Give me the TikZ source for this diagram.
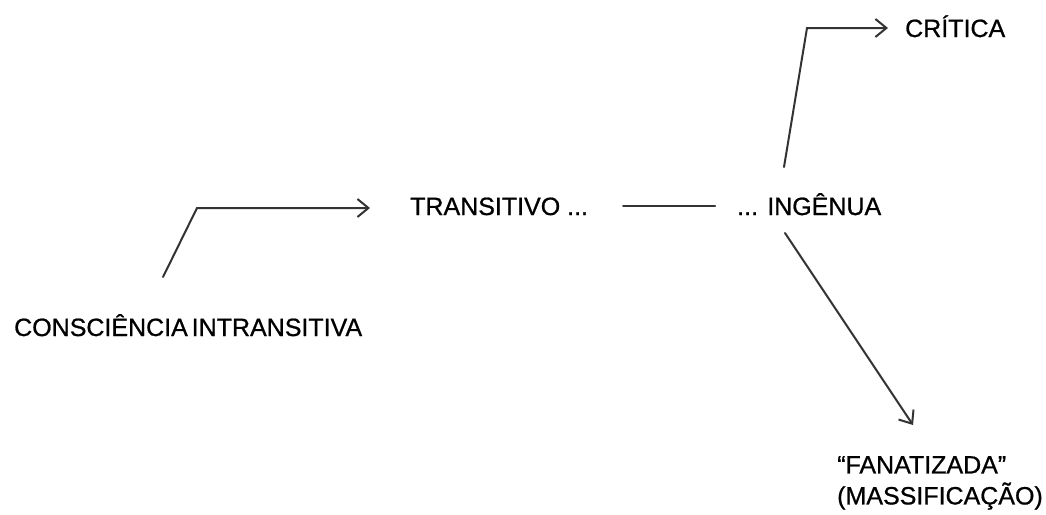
\documentclass[tikz,border=0pt]{standalone}
\usepackage{fontspec}
\setmainfont{Liberation Sans}[FakeBold=0.8]
\usetikzlibrary{arrows.meta}
\tikzset{
  lbl/.style={inner sep=0pt, font=\fontsize{25}{31}\selectfont, text=black},
  conn/.style={line width=2pt, draw=black!80, line cap=round, line join=miter},
  tip/.style={-{Straight Barb[length=11pt,width=18pt,line width=2pt]}}
}
\begin{document}
\begin{tikzpicture}[x=1pt,y=-1pt]
\useasboundingbox[fill=white] (0,0) rectangle (1046,514);
% labels
\node[lbl, anchor=base west] (ci) at (14,336) {CONSCIÊNCIA\hspace{-0.12em} INTRANSITIVA};
\node[lbl, anchor=base west] (tr) at (410,215) {TRANSITIVO ...};
\node[lbl, anchor=base west] (ing) at (737,215) {... INGÊNUA};
\node[lbl, anchor=base west] (cr) at (905,37) {CRÍTICA};
\node[lbl, anchor=north west, align=left] (fan) at (837,456) {“FANATIZADA”\\(MASSIFICAÇÃO)};
% connector points
\coordinate (a1) at (163,277);
\coordinate (a2) at (197,208);
\coordinate (a3) at (370,208);
\coordinate (m1) at (623,206);
\coordinate (m2) at (715,206);
\coordinate (u1) at (784,167);
\coordinate (u2) at (807,28);
\coordinate (u3) at (888,28);
\coordinate (d1) at (785,233);
\coordinate (d2) at (913,425);
% connectors
\draw[conn, tip] (a1) -- (a2) -- (a3);
\draw[conn] (m1) -- (m2);
\draw[conn, tip] (u1) -- (u2) -- (u3);
\draw[conn, tip] (d1) -- (d2);
\end{tikzpicture}
\end{document}
